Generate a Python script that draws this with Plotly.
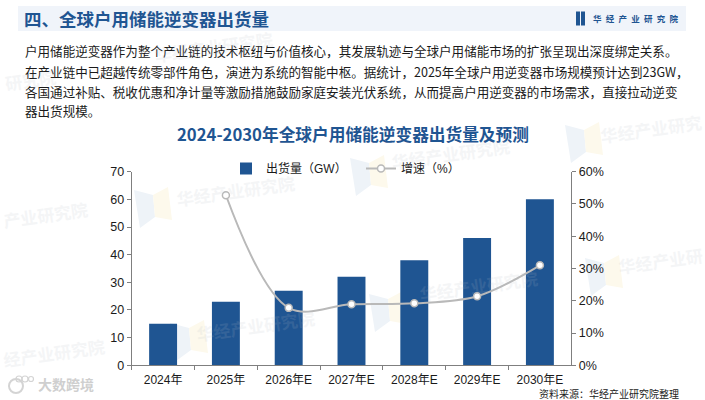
import plotly.graph_objects as go

W, H = 705, 400
CJK = "Noto Sans CJK SC"
AXIS_FONT = "Liberation Sans, Noto Sans CJK SC"
BLUE = "#1f5592"

# chart data
years = ["2024年", "2025年", "2026年E", "2027年E", "2028年E", "2029年E", "2030年E"]
shipments = [15, 23, 27, 32, 38, 46, 60]
growth = [None, 52.7, 17.8, 18.9, 19.2, 21.4, 31.0]

# texts
heading = "四、全球户用储能逆变器出货量"
brand = "\u2002".join("华经产业研究院")
chart_title = "2024-2030年全球户用储能逆变器出货量及预测"
source = "资料来源：华经产业研究院整理"
body_lines = [
    "户用储能逆变器作为整个产业链的技术枢纽与价值核心，其发展轨迹与全球户用储能市场的扩张呈现出深度绑定关系。",
    "在产业链中已超越传统零部件角色，演进为系统的智能中枢。据统计，2025年全球户用逆变器市场规模预计达到23GW，",
    "各国通过补贴、税收优惠和净计量等激励措施鼓励家庭安装光伏系统，从而提高户用逆变器的市场需求，直接拉动逆变",
    "器出货规模。",
]
body_y = [50, 71, 91, 110]

# watermark spots, pixels from top left (text centre)
mark_texts = ["华经产业研究院", "产业研究院", "研究院", "华经产业研究院", "华经产业研究院",
              "华经产业研究院", "华经产业研究", "华经产业研", "华经产业研究院", "经产业研究院"]
mark_text_x = [235, 45, 30, 255, 450, 478, 651, 660, 213, 54]
mark_text_y = [190, 214, 80, 325, 153, 285, 128, 260, 46, 352]
# logo spots, left edge / top edge
logo_x = [134, 170, 350, 369, 565, 585]
logo_y = [187, 320, 155, 291, 122, 255]


def px_x(v):
    return v / W


def px_y(v):
    return 1 - v / H


fig = go.Figure()

fig.add_trace(go.Bar(x=years, y=shipments, name="出货量（GW）", width=0.445,
                     marker=dict(color=BLUE, line=dict(width=0))))
fig.add_trace(go.Scatter(x=years, y=growth, name="增速（%）", yaxis="y2", mode="lines+markers",
                         line=dict(color="#b9b9b9", width=2, shape="spline", smoothing=1.0),
                         marker=dict(size=7, color="white", line=dict(color="#b9b9b9", width=1.5))))

shapes = []
annotations = []

# header band
shapes.append(dict(type="rect", xref="paper", yref="paper", layer="below",
                   x0=px_x(18), x1=px_x(686), y0=px_y(31), y1=px_y(6),
                   fillcolor="#f0f4fa", line_width=0))
# small brand logo in the header
for x0, x1 in [(576, 580), (581, 585)]:
    shapes.append(dict(type="rect", xref="paper", yref="paper", layer="above",
                       x0=px_x(x0), x1=px_x(x1), y0=px_y(25.5), y1=px_y(11.5),
                       fillcolor=BLUE, line_width=0))


def text(x, y, s, size, color, anchor="left", bold=False, family=CJK, angle=0, opacity=1):
    annotations.append(dict(xref="paper", yref="paper", x=px_x(x), y=px_y(y), text=f"<b>{s}</b>" if bold else s,
                            showarrow=False, xanchor=anchor, yanchor="middle", textangle=angle, opacity=opacity,
                            borderpad=0, font=dict(family=family, size=size, color=color)))


text(23, 19, heading, 17.5, BLUE, bold=True)
text(592, 18, brand, 8.5, BLUE, bold=True)
for line, y in zip(body_lines, body_y):
    text(24, y, line, 12.55, "#1a1a1a")
text(353, 134, chart_title, 16.7, BLUE, anchor="center", bold=True)
text(680, 393, source, 10, "#222222", anchor="right")

# faint background watermarks
for s, x, y in zip(mark_texts, mark_text_x, mark_text_y):
    text(x, y, s, 17, "#b4bcc6", anchor="center", bold=True, angle=-8, opacity=0.14)
for x, y in zip(logo_x, logo_y):
    shapes.append(dict(type="path", xref="paper", yref="paper", layer="below",
                       path=f"M {px_x(x)} {px_y(y + 3)} L {px_x(x + 19)} {px_y(y + 8)} "
                            f"L {px_x(x + 21)} {px_y(y + 30)} L {px_x(x + 6)} {px_y(y + 41)} Z",
                       fillcolor="#eef3f8", line_width=0))
    shapes.append(dict(type="path", xref="paper", yref="paper", layer="below",
                       path=f"M {px_x(x + 19)} {px_y(y + 8)} L {px_x(x + 34)} {px_y(y)} "
                            f"L {px_x(x + 38)} {px_y(y + 33)} L {px_x(x + 21)} {px_y(y + 30)} Z",
                       fillcolor="#fdf9ec", line_width=0))

# bottom left stamp
text(37, 384, "大数跨境", 14, "#cfcfcf", bold=True)
for cx, cy, r in [(19, 379, 3), (25, 379, 3), (31, 379, 2.5)]:
    shapes.append(dict(type="circle", xref="paper", yref="paper", layer="above",
                       x0=px_x(cx - r), x1=px_x(cx + r), y0=px_y(cy + r), y1=px_y(cy - r),
                       line=dict(color="#d4d4d4", width=1.2)))
shapes.append(dict(type="circle", xref="paper", yref="paper", layer="above",
                   x0=px_x(9), x1=px_x(23), y0=px_y(393), y1=px_y(379),
                   line=dict(color="#d4d4d4", width=2)))

axis_line = dict(showline=True, linecolor="#7f7f7f", linewidth=1, ticks="outside", ticklen=4,
                 tickcolor="#7f7f7f", showgrid=False, zeroline=False, automargin=False)

fig.update_layout(
    width=W, height=H, autosize=False,
    margin=dict(l=0, r=0, t=0, b=0),
    paper_bgcolor="white", plot_bgcolor="rgba(0,0,0,0)",
    shapes=shapes,
    annotations=annotations,
    font=dict(family=AXIS_FONT, size=12, color="#1a1a1a"),
    legend=dict(orientation="h", x=px_x(226), y=px_y(154), xanchor="left", yanchor="top",
                bgcolor="rgba(0,0,0,0)", entrywidth=90, entrywidthmode="pixels",
                font=dict(family=AXIS_FONT, size=12, color="#1a1a1a")),
    xaxis=dict(domain=[px_x(131.7), px_x(571.3)], type="category", tickson="boundaries", ticklabelstandoff=3,
               **axis_line, tickfont=dict(family=AXIS_FONT, size=12, color="#1a1a1a")),
    yaxis=dict(anchor="x", domain=[px_y(365.3), px_y(171.7)], range=[0, 70], dtick=10, **axis_line,
               tickfont=dict(family=AXIS_FONT, size=12.5, color="#1a1a1a")),
    yaxis2=dict(anchor="x", overlaying="y", side="right", range=[0, 60], dtick=10, ticksuffix="%", **axis_line,
                tickfont=dict(family=AXIS_FONT, size=12.5, color="#1a1a1a")),
)

fig.write_html("out.html", config={"displayModeBar": False},
               post_script="document.body.style.margin='0';")
